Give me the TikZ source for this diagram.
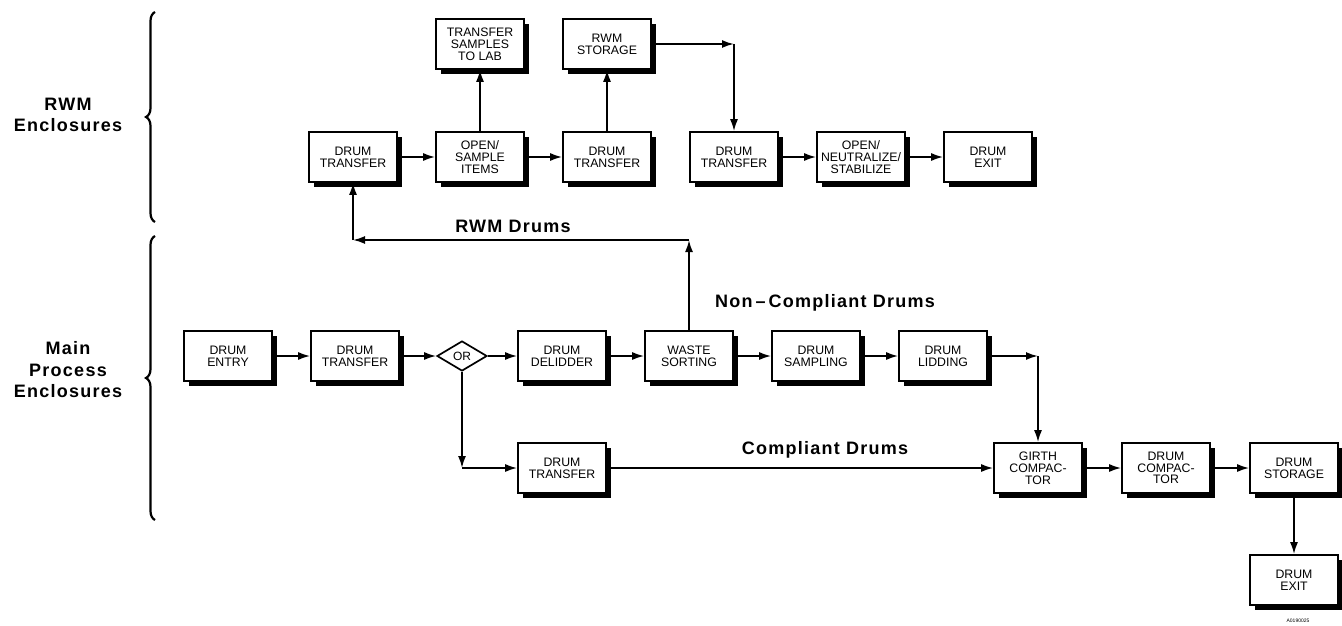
\documentclass[tikz,border=0pt]{standalone}
\usepackage{fontspec}
\setmainfont{Liberation Sans}
\newfontfamily\lblfont[LetterSpace=7]{Liberation Sans}
\usetikzlibrary{arrows.meta,positioning,shapes.geometric,shadows,decorations.pathreplacing}
\tikzset{>={Latex[length=12pt,width=8pt]}}

\begin{document}
\begin{tikzpicture}[x=1pt,y=-1pt,
	stage/.style={draw, line width=1.7pt, fill=white, minimum width=88pt, minimum height=50pt, inner sep=1pt, align=center, font=\fontsize{12.3}{11.8}\selectfont, drop shadow={shadow xshift=5pt, shadow yshift=-5pt, opacity=1, fill=black}},
	choice/.style={draw, line width=1.7pt, fill=white, diamond, aspect=1.8, minimum width=50pt, minimum height=30pt, inner sep=0pt, font=\fontsize{12}{12}\selectfont},
	flow/.style={->, line width=1.8pt},
	lbl/.style={font=\lblfont\bfseries\fontsize{18}{21.5}\selectfont, align=center},
	grp/.style={decorate, decoration={brace, amplitude=9pt}, line width=2.2pt},
	node distance=112pt and 127pt, on grid]
	\useasboundingbox (0,0) rectangle (1342,626);

	% main process row
	\node[stage] (entry) at (228,356) {DRUM\\ENTRY};
	\node[stage] (mtrans) [right=of entry] {DRUM\\TRANSFER};
	\node[choice] (or) [right=107pt of mtrans] {OR};
	\node[stage] (delid) [right=207pt of mtrans] {DRUM\\DELIDDER};
	\node[stage] (waste) [right=of delid] {WASTE\\SORTING};
	\node[stage] (sampl) [right=of waste] {DRUM\\SAMPLING};
	\node[stage] (lid) [right=of sampl] {DRUM\\LIDDING};
	\node[stage] (ctrans) [below=of delid] {DRUM\\TRANSFER};
	\node[stage] (girth) at (1038,468) {GIRTH\\COMPAC-\\TOR};
	\node[stage] (compact) [right=128pt of girth] {DRUM\\COMPAC-\\TOR};
	\node[stage] (store) [right=128pt of compact] {DRUM\\STORAGE};
	\node[stage] (mexit) [below=of store] {DRUM\\EXIT};

	% RWM row
	\node[stage] (rtrans) at (353,157) {DRUM\\TRANSFER};
	\node[stage] (items) [right=of rtrans] {OPEN/\\SAMPLE\\ITEMS};
	\node[stage] (lab) [above=113pt of items] {TRANSFER\\SAMPLES\\TO LAB};
	\node[stage] (rtrans2) [right=of items] {DRUM\\TRANSFER};
	\node[stage] (rstore) [above=113pt of rtrans2] {RWM\\STORAGE};
	\node[stage] (rtrans3) [right=of rtrans2] {DRUM\\TRANSFER};
	\node[stage] (neut) [right=of rtrans3] {OPEN/\\NEUTRALIZE/\\STABILIZE};
	\node[stage] (rexit) [right=of neut] {DRUM\\EXIT};

	\coordinate (rcorner) at (rstore.east -| rtrans3);
	\coordinate (lcorner) at (lid.east -| girth);
	\coordinate (ocorner) at (or |- ctrans);
	\coordinate (wcorner) at (waste |- 0,240);
	\coordinate (tcorner) at (rtrans |- 0,240);

	\draw[flow] (entry) -- (mtrans);
	\draw[flow] (mtrans) -- (or);
	\draw[flow] (or) -- (delid);
	\draw[flow] (delid) -- (waste);
	\draw[flow] (waste) -- (sampl);
	\draw[flow] (sampl) -- (lid);
	\draw[flow] (lid) -- (lcorner);
	\draw[flow] (lcorner) -- (girth);
	\draw[flow] (or) -- (ocorner);
	\draw[flow] (ocorner) -- (ctrans);
	\draw[flow] (ctrans) -- (girth);
	\draw[flow] (girth) -- (compact);
	\draw[flow] (compact) -- (store);
	\draw[flow] (store) -- (mexit);
	\draw[flow] (waste) -- (wcorner);
	\draw[flow] (wcorner) -- (tcorner);
	\draw[flow] (tcorner) -- (rtrans);
	\draw[flow] (rtrans) -- (items);
	\draw[flow] (items) -- (lab);
	\draw[flow] (items) -- (rtrans2);
	\draw[flow] (rtrans2) -- (rstore);
	\draw[flow] (rstore) -- (rcorner);
	\draw[flow] (rcorner) -- (rtrans3);
	\draw[flow] (rtrans3) -- (neut);
	\draw[flow] (neut) -- (rexit);

	\node[lbl] (rwmlbl) at (513,226) {RWM Drums};
	\node[lbl] (nclbl) at (825,303) {Non\,\textendash\,Compliant Drums};
	\node[lbl] (clbl) at (825,450) {Compliant Drums};

	% enclosure braces
	\draw[grp] (155,222) -- (155,12);
	\draw[grp] (155,520) -- (155,236);
	\node[lbl] (rwmencl) at (68,115) {RWM\\Enclosures};
	\node[lbl] (mainencl) at (68,370) {Main\\Process\\Enclosures};
	\node[font=\fontsize{5}{5}\selectfont] (figid) at (1298,621) {A0190025};
\end{tikzpicture}
\end{document}
